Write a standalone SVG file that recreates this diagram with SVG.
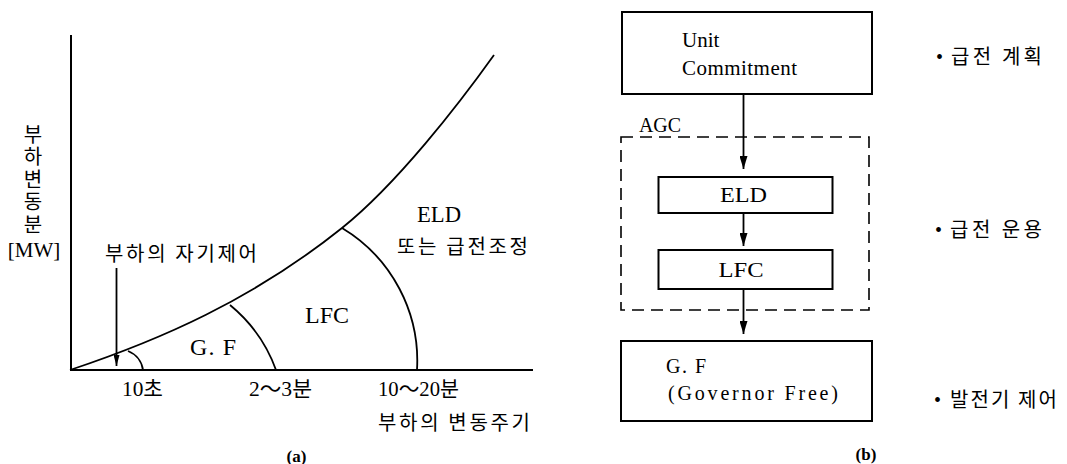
<svg xmlns="http://www.w3.org/2000/svg" width="1067" height="464" viewBox="0 0 1067 464">
  <style>
    .ln { fill: none; stroke: #000; stroke-width: 1.8; }
    .box { fill: none; stroke: #000; stroke-width: 2; }
    .dash { fill: none; stroke: #000; stroke-width: 1.6; stroke-dasharray: 12 7; }
    .lat { font-family: 'Liberation Serif', 'Noto Sans CJK KR', serif; fill: #000; }
    .kor { font-family: 'Noto Sans CJK KR', 'Liberation Serif', sans-serif; fill: #000; }
    .vert { writing-mode: vertical-rl; text-orientation: upright; letter-spacing: 2.6px; }
  </style>
  <defs>
    <marker id="tip" viewBox="0 0 13 8" refX="13" refY="4" markerWidth="13" markerHeight="8" markerUnits="userSpaceOnUse" orient="auto">
      <path d="M0,0 L13,4 L0,8 Z" fill="#000"/>
    </marker>
    <marker id="tipS" viewBox="0 0 11 6" refX="11" refY="3" markerWidth="11" markerHeight="6" markerUnits="userSpaceOnUse" orient="auto">
      <path d="M0,0 L11,3 L0,6 Z" fill="#000"/>
    </marker>
  </defs>

  <!-- (a) load-variation chart -->
  <g id="chart">
    <!-- axes -->
    <path class="box" d="M71,35 L71,370 L533,370"/>
    <!-- load variation curve -->
    <path class="ln" d="M70,370 C160,340 252,300 342,228 C397,184 459,104 494,55"/>
    <!-- band boundaries -->
    <path class="ln" d="M128,351 A24 24 0 0 1 143,370"/>
    <path class="ln" d="M230,305 A150 150 0 0 1 276,370"/>
    <path class="ln" d="M342,228 A155 155 0 0 1 417,370"/>
    <!-- self-regulation pointer -->
    <line class="ln" x1="116.5" y1="268" x2="116.5" y2="366" stroke-width="1.5" marker-end="url(#tipS)"/>
  </g>

  <g id="chart-labels">
    <text id="y-label" class="kor vert" x="33" y="124" font-size="20">부하변동분</text>
    <text class="lat" x="34" y="257" font-size="21" text-anchor="middle">[MW]</text>
    <text class="kor" x="105" y="261" font-size="20" textLength="152" lengthAdjust="spacing">부하의 자기제어</text>
    <text class="lat" x="190" y="355" font-size="24" textLength="46" lengthAdjust="spacing">G. F</text>
    <text class="lat" x="305" y="323" font-size="24" textLength="44" lengthAdjust="spacingAndGlyphs">LFC</text>
    <text class="lat" x="417" y="222" font-size="24" textLength="44" lengthAdjust="spacingAndGlyphs">ELD</text>
    <text class="kor" x="397" y="254" font-size="20" textLength="131" lengthAdjust="spacing">또는 급전조정</text>
    <text class="lat" x="122" y="396" font-size="21" textLength="41" lengthAdjust="spacingAndGlyphs">10초</text>
    <text class="lat" x="249" y="396" font-size="21" textLength="63" lengthAdjust="spacingAndGlyphs">2～3분</text>
    <text class="lat" x="378" y="396" font-size="21" textLength="81" lengthAdjust="spacingAndGlyphs">10～20분</text>
    <text class="kor" x="378" y="430" font-size="20" textLength="152" lengthAdjust="spacing">부하의 변동주기</text>
    <text class="lat" x="296.5" y="462" font-size="17" font-weight="bold" text-anchor="middle">(a)</text>
  </g>

  <!-- (b) dispatch control hierarchy -->
  <g id="unit-commitment">
    <rect class="box" x="622" y="12" width="250" height="82"/>
    <text class="lat" x="682" y="47" font-size="21">Unit</text>
    <text class="lat" x="682" y="75" font-size="21" textLength="115" lengthAdjust="spacing">Commitment</text>
  </g>

  <g id="agc">
    <rect class="dash" x="621" y="137" width="248" height="173"/>
    <text class="lat" x="639" y="132" font-size="20" textLength="42" lengthAdjust="spacingAndGlyphs">AGC</text>
  </g>

  <g id="eld">
    <rect class="box" x="658.5" y="177" width="174" height="36"/>
    <text class="lat" x="743.5" y="202" font-size="22" text-anchor="middle" textLength="47" lengthAdjust="spacingAndGlyphs">ELD</text>
  </g>

  <g id="lfc">
    <rect class="box" x="658.5" y="250" width="174" height="39"/>
    <text class="lat" x="741" y="277" font-size="22" text-anchor="middle" textLength="45" lengthAdjust="spacingAndGlyphs">LFC</text>
  </g>

  <g id="governor-free">
    <rect class="box" x="621" y="341" width="251" height="80"/>
    <text class="lat" x="666" y="373" font-size="20" textLength="40" lengthAdjust="spacing">G. F</text>
    <text class="lat" x="668" y="400" font-size="20" textLength="170" lengthAdjust="spacing">(Governor Free)</text>
  </g>

  <g id="connectors">
    <line class="ln" x1="743.5" y1="94" x2="743.5" y2="169" stroke-width="2" marker-end="url(#tip)"/>
    <line class="ln" x1="743.5" y1="213" x2="743.5" y2="246" stroke-width="2" marker-end="url(#tip)"/>
    <line class="ln" x1="743.5" y1="289" x2="743.5" y2="334" stroke-width="2" marker-end="url(#tip)"/>
  </g>

  <g id="roles" class="kor" font-size="20">
    <text y="64"><tspan class="lat" x="936" font-size="20">•</tspan><tspan x="951" textLength="91" lengthAdjust="spacing">급전 계획</tspan></text>
    <text y="237"><tspan class="lat" x="935" font-size="20">•</tspan><tspan x="950" textLength="92" lengthAdjust="spacing">급전 운용</tspan></text>
    <text y="407"><tspan class="lat" x="934" font-size="20">•</tspan><tspan x="950" textLength="107" lengthAdjust="spacing">발전기 제어</tspan></text>
  </g>

  <text class="lat" x="866" y="460" font-size="17" font-weight="bold" text-anchor="middle">(b)</text>
</svg>
